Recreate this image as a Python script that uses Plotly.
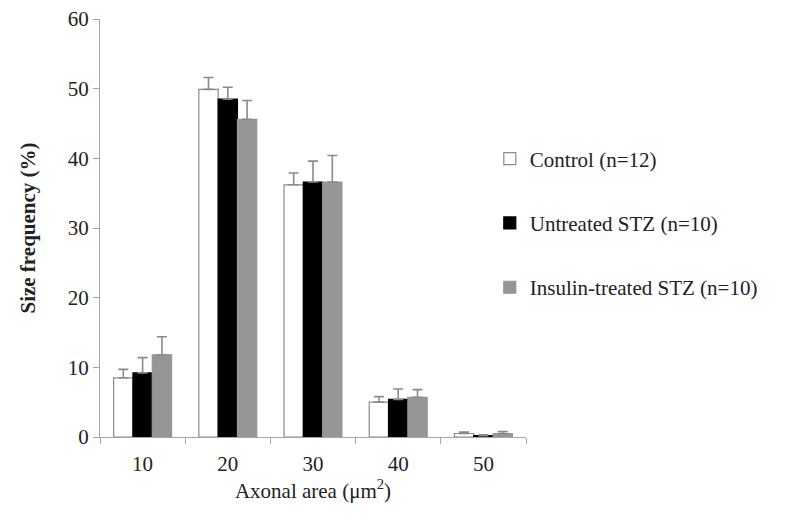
import plotly.graph_objects as go

categories = ["10", "20", "30", "40", "50"]
control = [8.5, 49.9, 36.2, 5.0, 0.5]
control_err = [1.2, 1.7, 1.7, 0.8, 0.2]
untreated = [9.2, 48.5, 36.6, 5.4, 0.2]
untreated_err = [2.2, 1.7, 3.0, 1.5, 0.1]
insulin = [11.8, 45.6, 36.6, 5.7, 0.5]
insulin_err = [2.6, 2.7, 3.8, 1.1, 0.3]

names = ["Control (n=12)", "Untreated STZ (n=10)", "Insulin-treated STZ (n=10)"]
fills = ["#ffffff", "#000000", "#969696"]
lines = ["#8a8a8a", "#000000", "#969696"]
FONT = "Liberation Serif, Times New Roman, serif"
FS = 21

fig = go.Figure()
for i, (vals, errs) in enumerate([(control, control_err), (untreated, untreated_err), (insulin, insulin_err)]):
    fig.add_trace(go.Bar(
        x=categories, y=vals, name=names[i], legendgroup=str(i),
        marker=dict(color=fills[i], line=dict(color=lines[i], width=1.2)),
        error_y=dict(type="data", array=errs, symmetric=False, arrayminus=[0]*5,
                     color="#8a8a8a", thickness=1.6, width=5),
    ))

fig.update_layout(
    width=796, height=519,
    margin=dict(l=92, r=278, t=11, b=90, autoexpand=False),
    paper_bgcolor="white", plot_bgcolor="white",
    barmode="group", bargap=0.32, bargroupgap=0.0,
    font=dict(family=FONT, size=FS, color="#222222"),
    showlegend=True,
    legend=dict(x=0.915, xanchor="left", y=0.512, yanchor="middle",
                traceorder="grouped", tracegroupgap=34,
                font=dict(family=FONT, size=FS, color="#222222"),
                bgcolor="rgba(0,0,0,0)"),
    xaxis=dict(type="category", showline=True, linecolor="#a6a6a6", linewidth=1.3,
               ticks="outside", tickson="boundaries", ticklen=6, tickcolor="#a6a6a6",
               ticklabelstandoff=8, automargin=False,
               showgrid=False, zeroline=False,
               title=dict(text="Axonal area (μm<sup>2</sup>)", font=dict(family=FONT, size=FS), standoff=6)),
    yaxis=dict(range=[0, 60], dtick=10, showline=True, linecolor="#a6a6a6", linewidth=1.3,
               ticks="outside", ticklen=6, tickcolor="#a6a6a6", showgrid=False, zeroline=False,
               ticklabeloverflow="allow", automargin=False,
               title=dict(text="<b>Size frequency (%)</b>", font=dict(family=FONT, size=FS), standoff=26)),
)

fig.write_html("out.html")
